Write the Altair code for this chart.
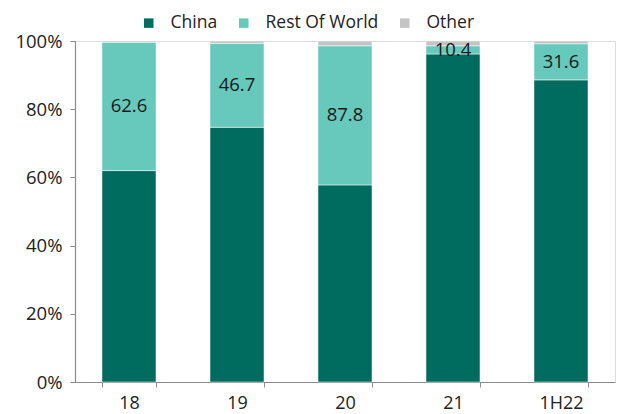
import altair as alt
import pandas as pd

years = ["18", "19", "20", "21", "1H22"]
china = [62.0, 74.7, 57.8, 96.2, 88.6]
rest_of_world = [37.6, 24.6, 40.8, 2.4, 10.6]
other = [0.4, 0.7, 1.4, 1.4, 0.8]
totals = ["62.6", "46.7", "87.8", "10.4", "31.6"]

series = ["China", "Rest Of World", "Other"]
colors = ["#006B5F", "#66C9BC", "#C4C4C4"]

rows = []
for i, y in enumerate(years):
    for k, (name, vals) in enumerate(zip(series, [china, rest_of_world, other])):
        rows.append({"year": y, "series": name, "value": vals[i], "order": k})
long_df = pd.DataFrame(rows)

wide_df = pd.DataFrame({"year": years, "china": china, "row": rest_of_world, "label": totals})

FONT = "Open Sans"
TXT = "#222222"
AX = "#8C8C8C"

x_enc = alt.X("year:N", sort=years, title=None,
              scale=alt.Scale(paddingInner=0.5, paddingOuter=0.25),
              axis=alt.Axis(tickBand="extent", labelAngle=0, labelFontSize=18,
                            labelPadding=7, domainColor=AX, tickColor=AX, domainWidth=1.2,
                            tickSize=5, labelColor=TXT, labelFont=FONT))

bars = alt.Chart(long_df).mark_bar(stroke="white", strokeWidth=0.5).encode(
    x=x_enc,
    y=alt.Y("value:Q", stack="zero", title=None,
            scale=alt.Scale(domain=[0, 100], nice=False),
            axis=alt.Axis(values=[0, 20, 40, 60, 80, 100], labelExpr="datum.value + '%'",
                          grid=False, labelFontSize=18.5, labelColor=TXT, labelFont=FONT,
                          domainColor=AX, tickColor=AX, domainWidth=1.2, tickSize=5,
                          labelPadding=8)),
    color=alt.Color("series:N", sort=series,
                    scale=alt.Scale(domain=series, range=colors),
                    legend=alt.Legend(title=None, orient="none", direction="horizontal",
                                      legendX=65, legendY=-27, symbolType="square",
                                      symbolSize=90, symbolStrokeWidth=0,
                                      labelFontSize=17.5, labelFont=FONT, labelColor=TXT,
                                      columnPadding=17, labelOffset=13)),
    order=alt.Order("order:Q"),
)

text = alt.Chart(wide_df).transform_calculate(
    mid="datum.china + datum.row / 2"
).mark_text(fontSize=18.5, font=FONT, color="#1A1A1A", baseline="middle").encode(
    x=alt.X("year:N", sort=years),
    y=alt.Y("mid:Q"),
    text="label:N",
)

chart = alt.layer(bars, text).properties(
    width=540, height=341,
    autosize=alt.AutoSizeParams(type="none"),
    padding={"left": 75, "top": 41, "right": 2, "bottom": 32},
).configure_view(stroke=None).configure(background="white")

chart.save("out.html", embed_options={"renderer": "svg", "actions": False})
